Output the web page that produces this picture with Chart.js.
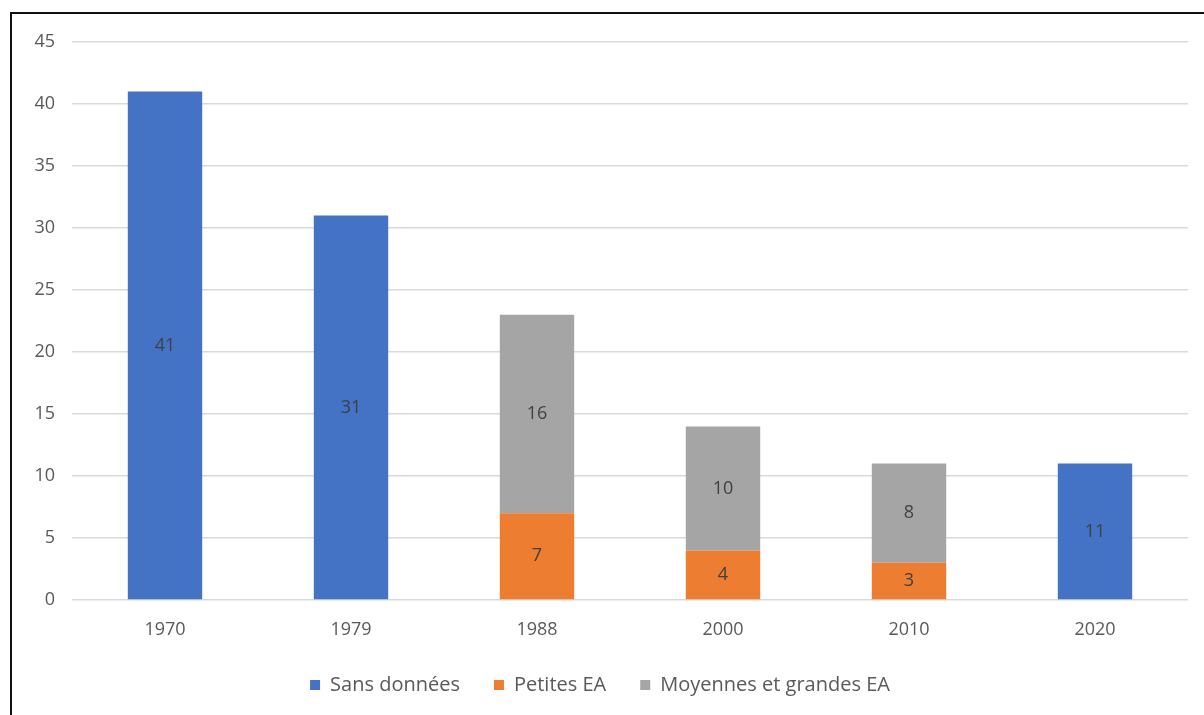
<!DOCTYPE html>
<html>
<head>
<meta charset="utf-8">
<script src="https://cdn.jsdelivr.net/npm/chart.js@4.4.0/dist/chart.umd.min.js"></script>
<style>
body { margin: 0; background: #fff; }
#box { position: absolute; left: 0; top: 0; width: 1204px; height: 715px; }
#frame { position: absolute; left: 10px; top: 12px; width: 1210px; height: 720px;
  border-left: 2px solid #111; border-top: 2px solid #111; pointer-events: none; }
</style>
</head>
<body>
<div id="box"><canvas id="myChart" width="1204" height="715"></canvas></div>
<div id="frame"></div>
<script>
var years = ['1970', '1979', '1988', '2000', '2010', '2020'];
var sansDonnees = [41, 31, null, null, null, 11];
var petitesEA = [null, null, 7, 4, 3, null];
var moyGrandesEA = [null, null, 16, 10, 8, null];
var yTicks = [0, 5, 10, 15, 20, 25, 30, 35, 40, 45];

// draw the value in the middle of each bar
var barLabels = {
    id: 'barLabels',
    afterDatasetsDraw: function(chart) {
        var ctx = chart.ctx;
        ctx.save();
        ctx.font = '18px "Open Sans", sans-serif';
        ctx.fillStyle = '#404040';
        ctx.textAlign = 'center';
        ctx.textBaseline = 'middle';
        chart.data.datasets.forEach(function(ds, i) {
            var meta = chart.getDatasetMeta(i);
            meta.data.forEach(function(bar, j) {
                if (ds.data[j] == null) return;
                ctx.fillText(ds.data[j], bar.x, (bar.y + bar.base) / 2);
            });
        });
        ctx.restore();
    }
};

var ctx = document.getElementById('myChart').getContext('2d');
var chart = new Chart(ctx, {
    type: 'bar',
    data: {
        labels: years,
        datasets: [{
            label: 'Sans données',
            backgroundColor: '#4472C4',
            data: sansDonnees
        }, {
            label: 'Petites EA',
            backgroundColor: '#ED7D31',
            data: petitesEA
        }, {
            label: 'Moyennes et grandes EA',
            backgroundColor: '#A5A5A5',
            data: moyGrandesEA
        }]
    },
    options: {
        responsive: false,
        animation: false,
        events: [],
        layout: { padding: { left: 12, right: 16, top: 42, bottom: 10 } },
        datasets: { bar: { barPercentage: 0.4, categoryPercentage: 1.0 } },
        plugins: {
            legend: {
                position: 'bottom',
                labels: {
                    boxWidth: 10, boxHeight: 10, padding: 34,
                    color: '#595959',
                    font: { size: 20, family: '"Open Sans", sans-serif' }
                }
            },
            tooltip: { enabled: false }
        },
        scales: {
            x: {
                stacked: true,
                grid: { display: false },
                border: { display: false },
                afterFit: function(scale) { scale.height = 41; },
                ticks: { color: '#595959', padding: 11, font: { size: 18, family: '"Open Sans", sans-serif' } }
            },
            y: {
                stacked: true,
                min: 0, max: 45,
                afterBuildTicks: function(scale) {
                    scale.ticks = yTicks.map(function(v) { return { value: v }; });
                },
                afterFit: function(scale) { scale.width = 60; },
                grid: { color: '#d9d9d9', lineWidth: 1.5, drawTicks: false },
                border: { display: false },
                ticks: { color: '#595959', padding: 17, font: { size: 18, family: '"Open Sans", sans-serif' } }
            }
        }
    },
    plugins: [barLabels]
});
</script>
</body>
</html>
